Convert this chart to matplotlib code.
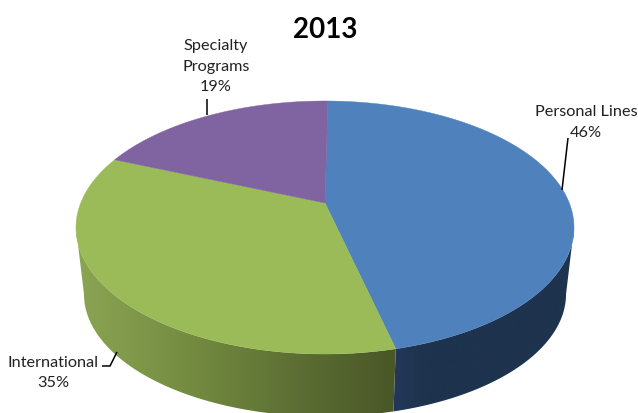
import numpy as np
import matplotlib
matplotlib.use("Agg")
import matplotlib.pyplot as plt
from matplotlib.patches import Polygon
from matplotlib.colors import to_rgb

# Revenue share by segment
segments = ["Personal Lines", "International", "Specialty\nPrograms"]
shares = [46, 35, 19]
top_colors = ["#4f81bd", "#9bbb59", "#8064a2"]
# Wall shading, lit end to shaded end, as (x position, colour) stops
wall_stops = [
    [(389, "#24395a"), (425, "#1e334d"), (575, "#1e334d")],
    [(76, "#8ba553"), (200, "#72893f"), (300, "#5c6e33"), (389, "#4a5828")],
    [(76, "#5f4b7a"), (325, "#5f4b7a")],
]

W, H = 638, 414
CX, APEX_Y = 325.0, 204.0
TILT = 0.1937          # perspective strength of the disc
DEPTH_A = -82.25       # vertical scale of the disc
RADIUS = 244.3         # horizontal scale of the disc
RIM_CY = 228.5         # centre of the visible top ellipse
BASE_CY = 295.0        # centre of the lower rim
BASE_SCALE = 0.968     # the lower rim recedes slightly
START_DEG = 0.8        # rotation of the first slice

plt.rcParams["font.family"] = ["Lato", "DejaVu Sans"]
fig = plt.figure(figsize=(W / 100, H / 100), dpi=100, facecolor="white")
ax = fig.add_axes([0, 0, 1, 1])
ax.axis("off")


def rim(theta):
    """Project polar position (clockwise from the top) onto the tilted disc."""
    u = np.sin(theta)
    v = np.cos(theta)
    w = 1 + TILT * v
    return CX + RADIUS * u / w, (DEPTH_A * v + APEX_Y) / w


def base(theta):
    x, y = rim(theta)
    return CX + BASE_SCALE * (x - CX), BASE_CY + BASE_SCALE * (y - RIM_CY)


def wall_gradient(stops, xs):
    sx = [s[0] for s in stops]
    rgb = np.array([to_rgb(s[1]) for s in stops])
    return np.stack([np.interp(xs, sx, rgb[:, i]) for i in range(3)], axis=-1)[None, :, :]


edges = (np.deg2rad(START_DEG)
         + 2 * np.pi * np.concatenate([[0], np.cumsum(shares)]) / sum(shares))

# Only the part of the wall between the two silhouette angles faces the viewer
front_lo = np.arccos(-TILT)
front_hi = 2 * np.pi - front_lo

# Side walls: a horizontal gradient clipped to the band between the two rims
for start, end, stops in zip(edges[:-1], edges[1:], wall_stops):
    lo, hi = max(start, front_lo), min(end, front_hi)
    if hi <= lo:
        continue
    t = np.linspace(lo, hi, 400)
    tx, ty = rim(t)
    bx, by = base(t)
    outline = np.column_stack([np.r_[tx, bx[::-1]], np.r_[ty, by[::-1]]])
    x0, x1 = outline[:, 0].min() - 2, outline[:, 0].max() + 2
    xs = np.linspace(x0, x1, 400)
    patch = Polygon(outline, closed=True, transform=ax.transData,
                    facecolor="none", edgecolor="none")
    ax.add_patch(patch)
    img = ax.imshow(wall_gradient(stops, xs), extent=[x0, x1, H, 0],
                    aspect="auto", interpolation="bilinear", zorder=2)
    img.set_clip_path(patch)

ax.set_xlim(0, W)
ax.set_ylim(H, 0)

# Top faces
for start, end, color in zip(edges[:-1], edges[1:], top_colors):
    t = np.linspace(start, end, 200)
    x, y = rim(t)
    ax.fill(np.r_[CX, x], np.r_[APEX_Y, y], color=color, lw=0.3, zorder=3)

# Leader lines
leader_paths = [
    [(568, 139), (562, 191)],
    [(117, 353), (110, 367), (102, 367)],
    [(207, 100), (207, 116)],
]
for path in leader_paths:
    px, py = zip(*path)
    ax.plot(px, py, color="black", lw=1.1, zorder=4, solid_capstyle="butt")

# Labels
label_pos = [(586, 122.5), (53, 373), (216, 66.5)]
for name, share, (lx, ly) in zip(segments, shares, label_pos):
    ax.text(lx, ly, f"{name}\n{share}%", ha="center", va="center",
            fontsize=11.7, color="#222222", linespacing=1.62, zorder=5)

ax.text(325, 30, "2013", ha="center", va="center", fontsize=20,
        fontweight="bold", color="black", zorder=5)

fig.savefig("out.png", dpi=100, facecolor="white")
